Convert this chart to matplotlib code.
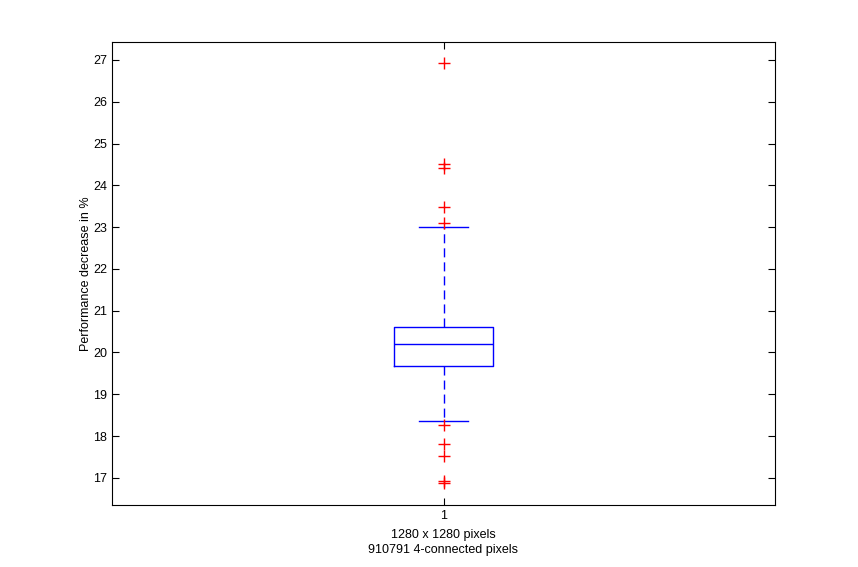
import matplotlib.pyplot as plt

plt.rcParams['font.family'] = ['Liberation Sans', 'DejaVu Sans']

# box statistics
median = 20.21
q1 = 19.68
q3 = 20.61
whisker_low = 18.36
whisker_high = 23.0
outliers = [26.93, 24.5, 24.42, 23.48, 23.09, 18.26, 17.8, 17.53, 16.93, 16.87]

yticks = [17, 18, 19, 20, 21, 22, 23, 24, 25, 26, 27]

fig = plt.figure(figsize=(8.58, 5.67), dpi=100)
ax = fig.add_axes([112 / 858, 62 / 567, 663 / 858, 463 / 567])

stats = [{'med': median, 'q1': q1, 'q3': q3,
          'whislo': whisker_low, 'whishi': whisker_high,
          'fliers': outliers, 'label': '1'}]
ax.bxp(stats, positions=[1], widths=0.15, showfliers=True,
       boxprops=dict(color='blue', linewidth=1.0),
       medianprops=dict(color='blue', linewidth=1.0),
       whiskerprops=dict(color='blue', linewidth=1.0, linestyle=(0, (6.5, 3.6))),
       capprops=dict(color='blue', linewidth=1.0),
       capwidths=0.075,
       flierprops=dict(marker='+', markeredgecolor='red', markersize=9,
                       markeredgewidth=1.0, linestyle='none'))

ax.set_xlim(0.5, 1.5)
ax.set_ylim(16.35, 27.43)
ax.set_yticks(yticks)
ax.set_xticks([1])
ax.set_xticklabels(['1'])
ax.tick_params(direction='in', top=True, right=True, labelsize=9, length=5, width=0.8)
ax.set_ylabel('Performance decrease in %', fontsize=9, labelpad=1)
ax.set_xlabel('1280 x 1280 pixels\n910791 4-connected pixels', fontsize=9,
              labelpad=5, linespacing=1.3)
for s in ax.spines.values():
    s.set_linewidth(0.8)

fig.savefig('out.png', dpi=100)
